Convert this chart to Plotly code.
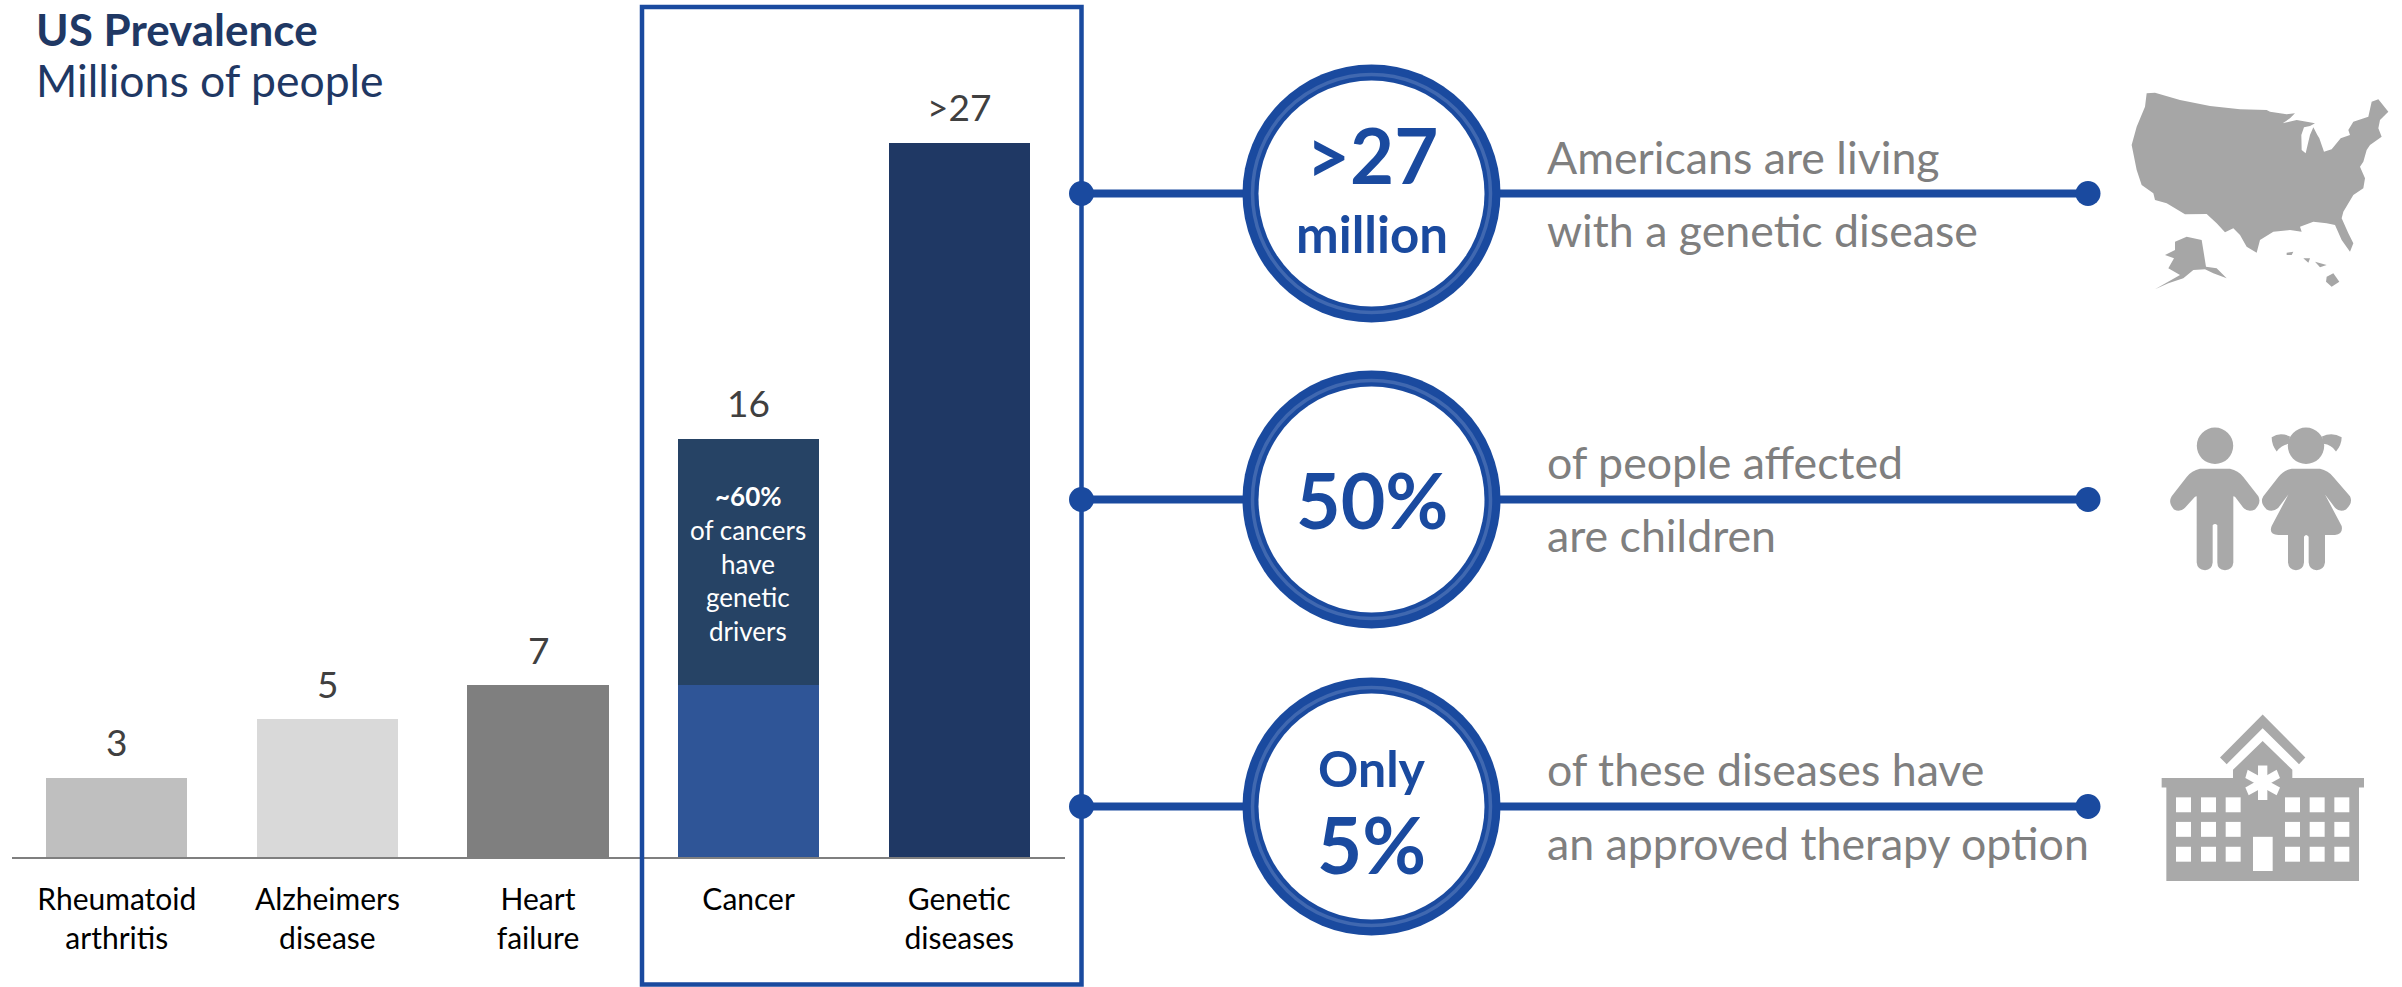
import plotly.graph_objects as go

categories = ["Rheumatoid<br>arthritis", "Alzheimers<br>disease", "Heart<br>failure", "Cancer", "Genetic<br>diseases"]
single_values = [3.0, 5.2, 6.5, None, 27.0]
single_colors = ["#BFBFBF", "#D9D9D9", "#7F7F7F", "#2F5597", "#1F3864"]
cancer_lower = [None, None, None, 6.5, None]
cancer_upper = [None, None, None, 9.3, None]
totals = [3.0, 5.2, 6.5, 15.8, 27.0]
value_labels = ["3", "5", "7", "16", ">27"]

W, H = 2402, 987
BLUE = "#1A4A9F"
NAVY = "#1F3864"
GREY = "#7F7F7F"
ICON = "#A9A9A9"
FONT = "Lato"
BASE = 857


def px(x):
    return x / W


def py(y):
    return 1 - y / H


fig = go.Figure()
fig.add_bar(x=categories, y=single_values, marker=dict(color=single_colors, line_width=0), showlegend=False)
fig.add_bar(x=categories, y=cancer_lower, marker=dict(color="#2F5597", line_width=0), showlegend=False)
fig.add_bar(x=categories, y=cancer_upper, marker=dict(color="#264365", line_width=0), showlegend=False)

shapes = []
ann = []


def text(x, y, s, size, color, bold=False, anchor="center"):
    ann.append(dict(xref="paper", yref="paper", x=px(x), y=py(y), text=f"<b>{s}</b>" if bold else s,
                    showarrow=False, xanchor=anchor, yanchor="middle", align=anchor,
                    font=dict(family=FONT, size=size, color=color), borderpad=0))


for c, t, lab in zip(categories, totals, value_labels):
    ann.append(dict(xref="x", yref="y", x=c, y=t, text=lab, showarrow=False, yanchor="middle", yshift=36,
                    font=dict(family=FONT, size=37, color="#404040")))

# highlight box
shapes.append(dict(type="rect", xref="paper", yref="paper", x0=px(642), x1=px(1081.5), y0=py(984.5), y1=py(7),
                   line=dict(color=BLUE, width=4.5), fillcolor="rgba(0,0,0,0)"))

rows = [193.5, 499.5, 806.5]
CX = 1371.5


def circle(cx, cy, r, fill, line=None, lw=0):
    shapes.append(dict(type="circle", xref="paper", yref="paper", x0=px(cx - r), x1=px(cx + r), y0=py(cy + r),
                       y1=py(cy - r), fillcolor=fill, line=dict(color=line or fill, width=lw)))


for cy in rows:
    shapes.append(dict(type="line", xref="paper", yref="paper", x0=px(1081.5), x1=px(2088), y0=py(cy), y1=py(cy),
                       line=dict(color=BLUE, width=8)))
    circle(1081.5, cy, 12.5, BLUE)
    circle(2088, cy, 12.5, BLUE)
    circle(CX, cy, 129, BLUE)
    circle(CX, cy, 119, "rgba(0,0,0,0)", "#4068B0", 3.5)
    circle(CX, cy, 113, "#FFFFFF", BLUE, 0)

# titles
text(35, 29, "US Prevalence", 44, NAVY, True, "left")
text(35, 80, "Millions of people", 44.5, NAVY, False, "left")

# text inside the cancer bar
for y, s, b in [(496, "~60%", True), (530, "of cancers", False), (564, "have", False), (597, "genetic", False),
                (631, "drivers", False)]:
    text(748, y, s, 26, "#FFFFFF", b)

# circle text
text(CX, 155, ">27", 76, BLUE, True)
text(CX, 234, "million", 51, BLUE, True)
text(CX, 499, "50%", 77, BLUE, True)
text(CX, 768, "Only", 50, BLUE, True)
text(CX, 844, "5%", 78, BLUE, True)

# side text
for y, s in [(157.5, "Americans are living"), (230, "with a genetic disease"), (462, "of people affected"),
             (535, "are children"), (768.5, "of these diseases have"), (843, "an approved therapy option")]:
    text(1546, y, s, 44.7, GREY, False, "left")


def path(points, ox, oy, sx=3.0, sy=3.0):
    # points given in icon-local units, converted to paper coordinates
    out = []
    for i, (a, b) in enumerate(points):
        out.append(f"{'M' if i == 0 else 'L'} {px(ox + a / sx):.5f},{py(oy + b / sy):.5f}")
    return " ".join(out) + " Z"


def fill_poly(points, ox, oy, color=ICON, sx=3.0, sy=3.0):
    shapes.append(dict(type="path", xref="paper", yref="paper", path=path(points, ox, oy, sx, sy), fillcolor=color,
                       line=dict(width=0)))


# ---- US map icon
usa = [(165, 68), (240, 90), (330, 108), (420, 118), (500, 120), (510, 125), (560, 133), (585, 130), (570, 145),
       (548, 160), (590, 150), (620, 155), (645, 160), (630, 168), (612, 172), (604, 195), (605, 240), (617, 250),
       (624, 220), (630, 195), (640, 172), (652, 195), (658, 205), (672, 245), (695, 238), (722, 205), (750, 195),
       (745, 180), (760, 155), (805, 140),
       (815, 95), (835, 88), (865, 125), (840, 150), (835, 175), (845, 200), (810, 225), (800, 240), (790, 275),
       (780, 290), (795, 325), (790, 355), (760, 375), (730, 425), (725, 445), (745, 490), (760, 520), (750, 545),
       (725, 510), (705, 465), (680, 460), (640, 455), (600, 470), (605, 485), (570, 480), (520, 485), (480, 510),
       (470, 548), (440, 530), (420, 495), (400, 475), (375, 487), (350, 460), (320, 432), (255, 433), (200, 400),
       (165, 390), (160, 370), (125, 345), (110, 300), (95, 225), (110, 170), (135, 110), (140, 70)]
alaska = [(225, 515), (260, 500), (305, 510), (318, 590), (350, 595), (380, 625), (340, 610), (315, 598), (280, 600),
          (250, 625), (205, 640), (165, 658), (240, 615), (205, 595), (222, 565), (195, 555), (225, 540)]
hawaii = [[(680, 620), (700, 610), (718, 635), (695, 650), (678, 635)], [(610, 565), (630, 565), (625, 578)],
          [(645, 575), (680, 585), (660, 592)], [(560, 548), (580, 545), (575, 555), (560, 555)]]
fill_poly(usa, 2100, 70, "#A6A6A6")
fill_poly(alaska, 2100, 70, "#A6A6A6")
for h in hawaii:
    fill_poly(h, 2100, 70, "#A6A6A6")

# ---- children icon (icon-local units, 3 per pixel)
OX, OY = 2100, 400


def curve(d):
    out = []
    for tok in d.split():
        if "," in tok:
            a, b = tok.split(",")
            out.append(f"{px(OX + float(a) / 3):.5f},{py(OY + float(b) / 3.015):.5f}")
        else:
            out.append(tok)
    return " ".join(out)


def fill_curve(d, color=ICON):
    shapes.append(dict(type="path", xref="paper", yref="paper", path=curve(d), fillcolor=color, line=dict(width=0)))


circle(OX + 345 / 3, OY + 138 / 3.015, 18.2, ICON)
circle(OX + 618 / 3, OY + 138 / 3.015, 18.2, ICON)
fill_curve("M 300,207 L 390,207 Q 415,212 430,232 L 475,290 Q 485,310 465,330 Q 445,340 430,325 L 405,292 L 400,290 "
           "L 400,490 Q 398,512 375,513 Q 352,512 352,490 L 352,378 Q 345,370 338,378 L 338,490 Q 336,512 315,513 "
           "Q 292,512 290,490 L 290,290 L 285,292 L 255,325 Q 240,340 222,330 Q 203,310 215,290 L 260,232 "
           "Q 275,212 300,207 Z")
fill_curve("M 570,110 Q 540,95 515,112 Q 515,135 530,155 Q 545,135 566,132 Z")
fill_curve("M 666,110 Q 696,95 725,112 Q 725,135 708,155 Q 695,135 670,132 Z")
fill_curve("M 575,207 L 660,207 Q 685,212 700,232 L 750,290 Q 760,310 738,330 Q 720,340 705,325 L 675,285 L 725,380 "
           "Q 730,405 705,407 L 675,407 L 675,490 Q 672,512 650,513 Q 628,512 626,490 L 626,412 Q 618,402 612,412 "
           "L 612,490 Q 610,512 588,513 Q 566,512 564,490 L 564,407 L 535,407 Q 505,405 515,380 L 565,285 L 535,325 "
           "Q 518,340 500,330 Q 478,310 490,290 L 535,232 Q 550,212 575,207 Z")

# ---- hospital icon
fill_curve("M 488,948 L 616,1078 L 597,1098 L 488,990 L 380,1098 L 360,1078 Z")
fill_curve("M 488,1028 L 577,1115 L 577,1140 L 792,1140 L 792,1168 L 777,1168 L 777,1450 L 199,1450 L 199,1168 "
           "L 185,1168 L 185,1140 L 399,1140 L 399,1115 Z")
for x0 in (228, 303, 377, 555, 629, 703):
    for y0 in (1198, 1272, 1347):
        fill_curve(f"M {x0},{y0} L {x0 + 45},{y0} L {x0 + 45},{y0 + 45} L {x0},{y0 + 45} Z", "#FFFFFF")
fill_curve("M 459,1317 L 518,1317 L 518,1420 L 459,1420 Z", "#FFFFFF")
fill_curve("M 474,1102 L 502,1102 L 502,1206 L 474,1206 Z", "#FFFFFF")
fill_curve("M 443,1115 L 540,1168 L 530,1192 L 436,1140 Z", "#FFFFFF")
fill_curve("M 530,1115 L 540,1140 L 446,1192 L 436,1168 Z", "#FFFFFF")

fig.update_layout(
    width=W, height=H, margin=dict(l=0, r=0, t=0, b=0), paper_bgcolor="white", plot_bgcolor="white",
    barmode="stack", bargap=0.33, showlegend=False, shapes=shapes, annotations=ann,
    font=dict(family=FONT, color="#000000"),
    xaxis=dict(domain=[px(11.5), px(1064.5)], type="category", range=[-0.5, 4.5], showgrid=False, zeroline=False,
               showline=True, linecolor=GREY, linewidth=2, ticks="outside", ticklen=15, tickcolor="rgba(0,0,0,0)",
               tickfont=dict(family=FONT, size=30, color="#000000"), tickangle=0),
    yaxis=dict(domain=[py(BASE), 1], range=[0, BASE / 26.46], visible=False, showgrid=False, zeroline=False),
)
fig.write_html("out.html", config=dict(displayModeBar=False),
               post_script="document.body.style.margin='0';document.body.style.overflow='hidden';")
